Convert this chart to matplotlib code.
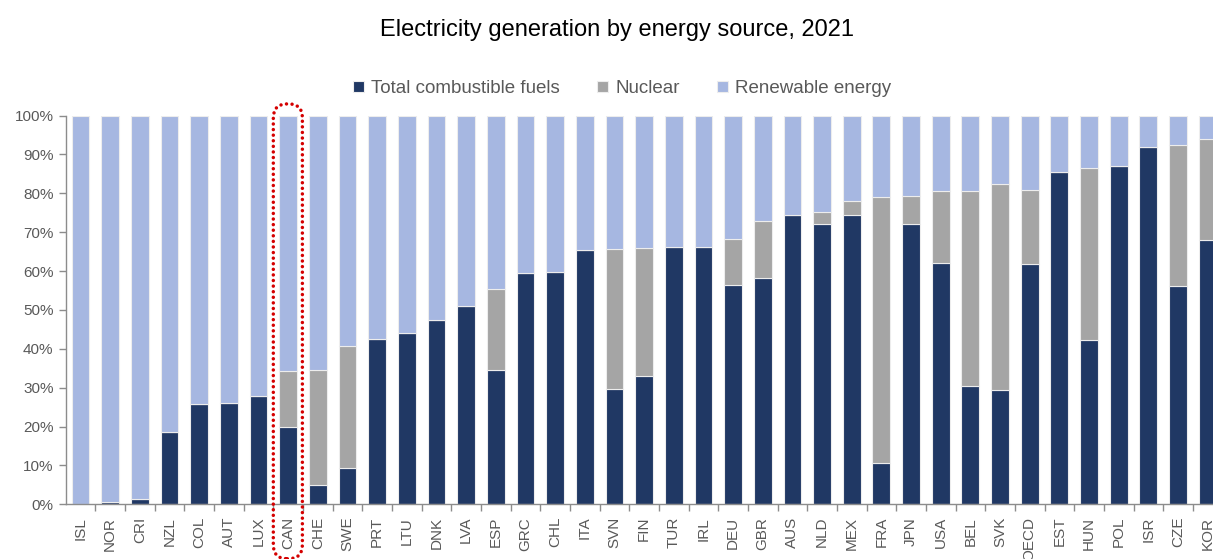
import numpy as np
import matplotlib
matplotlib.use('Agg')
import matplotlib.pyplot as plt
from matplotlib.patches import FancyBboxPatch
from matplotlib.transforms import IdentityTransform

plt.rcParams['font.family'] = ['Liberation Sans', 'DejaVu Sans']

countries = ['ISL', 'NOR', 'CRI', 'NZL', 'COL', 'AUT', 'LUX', 'CAN', 'CHE', 'SWE',
             'PRT', 'LTU', 'DNK', 'LVA', 'ESP', 'GRC', 'CHL', 'ITA', 'SVN', 'FIN',
             'TUR', 'IRL', 'DEU', 'GBR', 'AUS', 'NLD', 'MEX', 'FRA', 'JPN', 'USA',
             'BEL', 'SVK', 'OECD', 'EST', 'HUN', 'POL', 'ISR', 'CZE', 'KOR']
# shares of total generation, %
combustible = [0.0, 0.6, 1.4, 18.5, 25.7, 26.1, 27.9, 19.8, 4.9, 9.4,
               42.6, 44.0, 47.4, 51.1, 34.6, 59.4, 59.8, 65.4, 29.7, 32.9,
               66.2, 66.2, 56.5, 58.1, 74.5, 72.2, 74.3, 10.6, 72.2, 62.2,
               30.4, 29.5, 61.8, 85.5, 42.3, 86.9, 91.9, 56.1, 68.0]
nuclear = [0.0, 0.0, 0.0, 0.0, 0.0, 0.0, 0.0, 14.6, 29.7, 31.4,
           0.0, 0.0, 0.0, 0.0, 20.9, 0.0, 0.0, 0.0, 36.0, 33.0,
           0.0, 0.0, 11.8, 14.9, 0.0, 3.0, 3.6, 68.4, 7.1, 18.5,
           50.3, 53.0, 19.1, 0.0, 44.2, 0.0, 0.0, 36.3, 26.0]
renewable = [100 - c - n for c, n in zip(combustible, nuclear)]
highlight = 'CAN'

C_FUEL = '#203864'
C_NUC = '#A5A5A5'
C_REN = '#A6B7E1'
C_TXT = '#595959'
C_AX = '#8C8C8C'

fig = plt.figure(figsize=(12.13, 5.59), dpi=100)
ax = fig.add_axes([0.0544, 0.0978, 0.9456, 0.6955])

x = np.arange(len(countries))
comb = np.array(combustible)
nuc = np.array(nuclear)
ren = np.array(renewable)
kw = dict(width=0.6, edgecolor='#EDEDED', linewidth=0.8)
ax.bar(x, comb, color=C_FUEL, label='Total combustible fuels', **kw)
ax.bar(x, nuc, bottom=comb, color=C_NUC, label='Nuclear', **kw)
ax.bar(x, ren, bottom=comb + nuc, color=C_REN, label='Renewable energy', **kw)

ax.set_yticks(np.arange(0, 101, 10))
ax.set_yticklabels([f'{v}%' for v in range(0, 101, 10)])
ax.set_xticks(x)
ax.set_xticklabels(countries, rotation=90)
ax.set_xticks(np.arange(-0.5, len(countries), 1), minor=True)
# limits last: set_xticks widens the view to include every tick
ax.set_xlim(-0.49, 38.18)
ax.set_ylim(0, 100)
ax.tick_params(axis='x', which='major', length=0, pad=9, labelsize=11, labelcolor=C_TXT)
ax.tick_params(axis='x', which='minor', length=5, color=C_AX, width=1)
ax.tick_params(axis='y', length=5, color=C_AX, width=1, pad=4, labelsize=11, labelcolor=C_TXT)
for s in ['top', 'right']:
    ax.spines[s].set_visible(False)
for s in ['left', 'bottom']:
    ax.spines[s].set_color(C_AX)
    ax.spines[s].set_linewidth(1)

# dotted rounded outline around the highlighted country
i = countries.index(highlight)
fig.canvas.draw()
x0, y0 = ax.transData.transform((i - 0.5, -14.0))
x1, y1 = ax.transData.transform((i + 0.48, 103.0))
box = FancyBboxPatch((x0, y0), x1 - x0, y1 - y0,
                     boxstyle='round,pad=0,rounding_size=14',
                     transform=IdentityTransform(), fill=False,
                     edgecolor='#D40000', linewidth=2.5,
                     linestyle=(0, (0.01, 1.6)), clip_on=False)
box.set_capstyle('round')
fig.add_artist(box)

fig.text(0.509, 0.946, 'Electricity generation by energy source, 2021',
         ha='center', va='center', fontsize=17, color='black')
fig.legend(loc='center', bbox_to_anchor=(0.513, 0.842), ncol=3, frameon=False,
           fontsize=13.5, handlelength=0.55, handleheight=0.55, handletextpad=0.4,
           columnspacing=2.0, labelcolor=C_TXT)

fig.savefig('out.png', dpi=100)
